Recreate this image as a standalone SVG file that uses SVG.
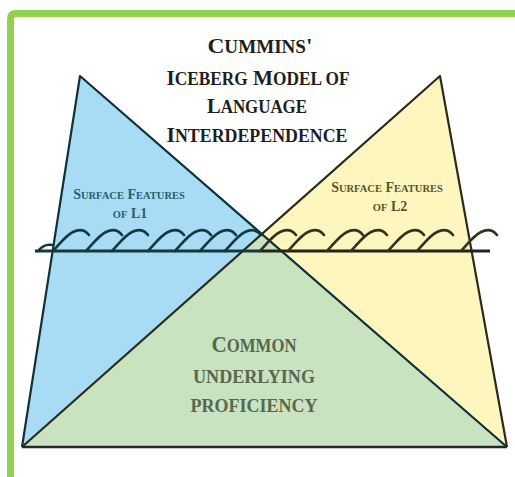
<svg xmlns="http://www.w3.org/2000/svg" xmlns:xlink="http://www.w3.org/1999/xlink" width="515" height="477" viewBox="0 0 515 477">
<style>
.t{font-family:"Liberation Serif","DejaVu Serif",serif;font-weight:bold;text-anchor:middle}
.title{fill:#1e1e1e;font-size:22px}
.title .s{font-size:18px}
.l1{fill:#2c5d6b;font-size:14px}
.l2{fill:#5a532e;font-size:14px}
.l1 .s,.l2 .s{font-size:10.5px}
.cup{fill:#56694f;font-size:24px}
.cup .s{font-size:19px}
.curlA{fill:none;stroke:#12393f;stroke-width:2.6;stroke-linecap:round}
.curlB{fill:none;stroke:#353120;stroke-width:2.6;stroke-linecap:round}
</style>
<defs>
<path id="curl" d="M0,0 C6,-6 12,-15 20,-19 C26,-22 32,-21 36,-16"/>
</defs>
<rect width="515" height="477" fill="#ffffff"/>
<path d="M10.5,477 V19 Q10.5,13.5 16,13.5 H515" fill="none" stroke="#92d050" stroke-width="7"/>

<g id="left-triangle">
<polygon points="80,76 22,447 507,447" fill="#a8dcf5"/>
</g>
<g id="right-triangle">
<polygon points="440,76 507,447 22,447" fill="#fdf6bf"/>
</g>
<g id="common-area">
<polygon points="262,234 507,447 22,447" fill="#c9e2bf"/>
</g>
<g id="outlines">
<polyline points="22,447 80,76 507,447" fill="none" stroke="#10303a" stroke-width="2.2" stroke-linejoin="round"/>
<polyline points="22,447 440,76 507,447" fill="none" stroke="#2e2a1a" stroke-width="2.2" stroke-linejoin="round"/>
<line x1="22" y1="447" x2="507" y2="447" stroke="#1f2b26" stroke-width="2.5"/>
</g>

<g id="waterline">
<line x1="35" y1="251" x2="262" y2="251" stroke="#12393f" stroke-width="3"/>
<line x1="262" y1="251" x2="490" y2="251" stroke="#252217" stroke-width="3"/>
<g class="curlA">
<path d="M38,251 C42,246 46,244 52,245"/>
<use xlink:href="#curl" x="53" y="251"/>
<use xlink:href="#curl" x="86" y="251"/>
<use xlink:href="#curl" x="112" y="251"/>
<use xlink:href="#curl" x="148" y="251"/>
<use xlink:href="#curl" x="175" y="251"/>
<use xlink:href="#curl" x="200" y="251"/>
<use xlink:href="#curl" x="225" y="251"/>
</g>
<g class="curlB">
<use xlink:href="#curl" x="260" y="251"/>
<use xlink:href="#curl" x="288" y="251"/>
<use xlink:href="#curl" x="327" y="251"/>
<use xlink:href="#curl" x="351" y="251"/>
<use xlink:href="#curl" x="388" y="251"/>
<use xlink:href="#curl" x="417" y="251"/>
<use xlink:href="#curl" x="461" y="251"/>
</g>
</g>

<g id="title">
<text class="t title" x="260" y="53" textLength="105" lengthAdjust="spacingAndGlyphs">C<tspan class="s">UMMINS</tspan>'</text>
<text class="t title" x="258" y="85" textLength="183" lengthAdjust="spacingAndGlyphs">I<tspan class="s">CEBERG</tspan> M<tspan class="s">ODEL OF</tspan></text>
<text class="t title" x="257" y="113" textLength="100" lengthAdjust="spacingAndGlyphs">L<tspan class="s">ANGUAGE</tspan></text>
<text class="t title" x="257" y="142" textLength="181" lengthAdjust="spacingAndGlyphs">I<tspan class="s">NTERDEPENDENCE</tspan></text>
</g>

<g id="surface-l1">
<text class="t l1" x="129" y="199">S<tspan class="s">URFACE</tspan> F<tspan class="s">EATURES</tspan></text>
<text class="t l1" x="130" y="218"><tspan class="s">OF</tspan> L1</text>
</g>
<g id="surface-l2">
<text class="t l2" x="387" y="192">S<tspan class="s">URFACE</tspan> F<tspan class="s">EATURES</tspan></text>
<text class="t l2" x="390" y="211"><tspan class="s">OF</tspan> L2</text>
</g>

<g id="common-proficiency">
<text class="t cup" x="254" y="352" textLength="85" lengthAdjust="spacingAndGlyphs">C<tspan class="s">OMMON</tspan></text>
<text class="t cup" x="254" y="383" textLength="122" lengthAdjust="spacingAndGlyphs"><tspan class="s">UNDERLYING</tspan></text>
<text class="t cup" x="254" y="412" textLength="127" lengthAdjust="spacingAndGlyphs"><tspan class="s">PROFICIENCY</tspan></text>
</g>
</svg>
